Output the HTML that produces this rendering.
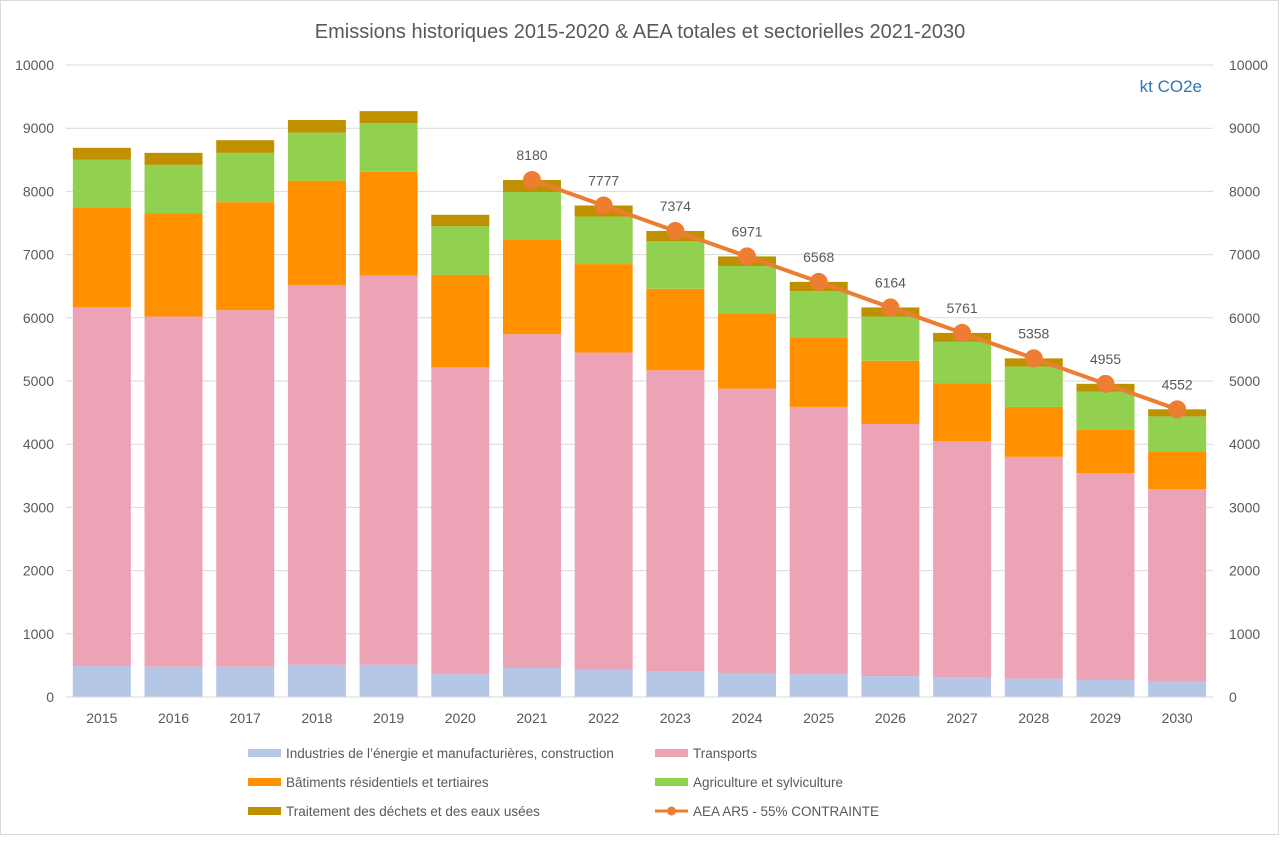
<!DOCTYPE html>
<html><head><meta charset="utf-8"><style>
html,body{margin:0;padding:0;background:#fff;}
body{width:1280px;height:836px;overflow:hidden;font-family:"Liberation Sans",sans-serif;}
svg text{font-family:"Liberation Sans",sans-serif;}
</style></head><body>
<svg id="chart" width="1280" height="836" xmlns="http://www.w3.org/2000/svg">
<rect x="0.5" y="0.5" width="1278" height="834" fill="#fff" stroke="#d9d9d9"/>
<text x="640" y="38" text-anchor="middle" font-size="20" fill="#595959">Emissions historiques 2015-2020 &amp; AEA totales et sectorielles 2021-2030</text>
<text x="1202" y="92" text-anchor="end" font-size="17" fill="#2e75b6">kt CO2e</text>
<g id="grid"></g><g id="bars"></g><g id="line"></g><g id="axes"></g><g id="legend"></g>
</svg>
<script>
const years=['2015','2016','2017','2018','2019','2020','2021','2022','2023','2024','2025','2026','2027','2028','2029','2030'];
const industry=[490,480,480,510,510,360,460,430,400,380,360,330,310,290,270,240];
const transport=[5680,5540,5640,6010,6160,4860,5280,5020,4770,4500,4230,3990,3740,3510,3270,3050];
const buildings=[1580,1630,1710,1650,1640,1460,1500,1400,1290,1190,1100,1000,910,790,690,600];
const agriculture=[750,770,780,760,770,770,750,750,750,750,730,700,660,640,600,550];
const waste=[190,190,200,200,190,180,190,177,164,151,148,144,141,128,125,112];
const targetYears=['2021','2022','2023','2024','2025','2026','2027','2028','2029','2030'];
const targetValues=[8180,7777,7374,6971,6568,6164,5761,5358,4955,4552];
const yTicks=[0,1000,2000,3000,4000,5000,6000,7000,8000,9000,10000];
const seriesNames=["Industries de l\u2019\u00e9nergie et manufacturi\u00e8res, construction","Transports","B\u00e2timents r\u00e9sidentiels et tertiaires","Agriculture et sylviculture","Traitement des d\u00e9chets et des eaux us\u00e9es","AEA AR5 - 55% CONTRAINTE"];
const colors=['#b4c7e7','#eca3b6','#ff9000','#92d050','#bf9000','#ed7d31'];
const NS='http://www.w3.org/2000/svg';
const X0=66,X1=1213,Y0=697,Y1=65,YMAX=10000;
const step=(X1-X0)/years.length,barW=58;
const xc=i=>X0+step*(i+0.5);
const y=v=>Y0-(v/YMAX)*(Y0-Y1);
function mk(tag,attrs,parent){const e=document.createElementNS(NS,tag);for(const k in attrs)e.setAttribute(k,attrs[k]);parent.appendChild(e);return e;}
const grid=document.getElementById('grid'),axes=document.getElementById('axes');
yTicks.forEach(t=>{
 if(t>0){const l=mk('line',{x1:X0,x2:X1,y1:y(t),y2:y(t),stroke:'#d9d9d9','stroke-width':1},grid);
 
 }
 const a=mk('text',{x:54,y:y(t)+5,'text-anchor':'end','font-size':14,fill:'#595959'},axes);a.textContent=t;
 
 
 const b=mk('text',{x:1229,y:y(t)+5,'text-anchor':'start','font-size':14,fill:'#595959'},axes);b.textContent=t;
 
 
});
const xl=mk('line',{x1:X0,x2:X1,y1:Y0,y2:Y0,stroke:'#d9d9d9','stroke-width':1},axes);


const bars=document.getElementById('bars');
const series=[industry,transport,buildings,agriculture,waste];
const keys=['industry','transport','buildings','agriculture','waste'];
years.forEach((yr,i)=>{
 let base=0;
 series.forEach((s,k)=>{
  const r=mk('rect',{x:xc(i)-barW/2,y:y(base+s[i]),width:barW,height:y(base)-y(base+s[i]),fill:colors[k]},bars);
  
  
  base+=s[i];
 });
 const t=mk('text',{x:xc(i),y:723,'text-anchor':'middle','font-size':14,fill:'#595959'},axes);t.textContent=yr;
 
 
});
const lg=document.getElementById('line');
const pts=targetYears.map((yr,j)=>[xc(years.indexOf(yr)),y(targetValues[j])]);
const pl=mk('polyline',{points:pts.map(p=>p.join(',')).join(' '),fill:'none',stroke:colors[5],'stroke-width':4},lg);


pts.forEach((p,j)=>{
 const c=mk('circle',{cx:p[0],cy:p[1],r:9,fill:colors[5]},lg);
 
 
 const t=mk('text',{x:p[0],y:p[1]-20,'text-anchor':'middle','font-size':14,fill:'#595959'},lg);t.textContent=targetValues[j];
 
 
});
const leg=document.getElementById('legend');
const legPos=[[248,753],[655,753],[248,782],[655,782],[248,811],[655,811]];
seriesNames.forEach((n,k)=>{
 const [lx,ly]=legPos[k];
 if(k<5){const r=mk('rect',{x:lx,y:ly-4,width:33,height:8,fill:colors[k]},leg);
  
  }
 else{const l=mk('line',{x1:lx,x2:lx+33,y1:ly,y2:ly,stroke:colors[5],'stroke-width':3},leg);
  
  
  const c=mk('circle',{cx:lx+16.5,cy:ly,r:4.5,fill:colors[5]},leg);
  
  }
 const t=mk('text',{x:lx+38,y:ly+5,'font-size':13.5,fill:'#595959'},leg);t.textContent=n;
 
 
});
</script>
</body></html>
